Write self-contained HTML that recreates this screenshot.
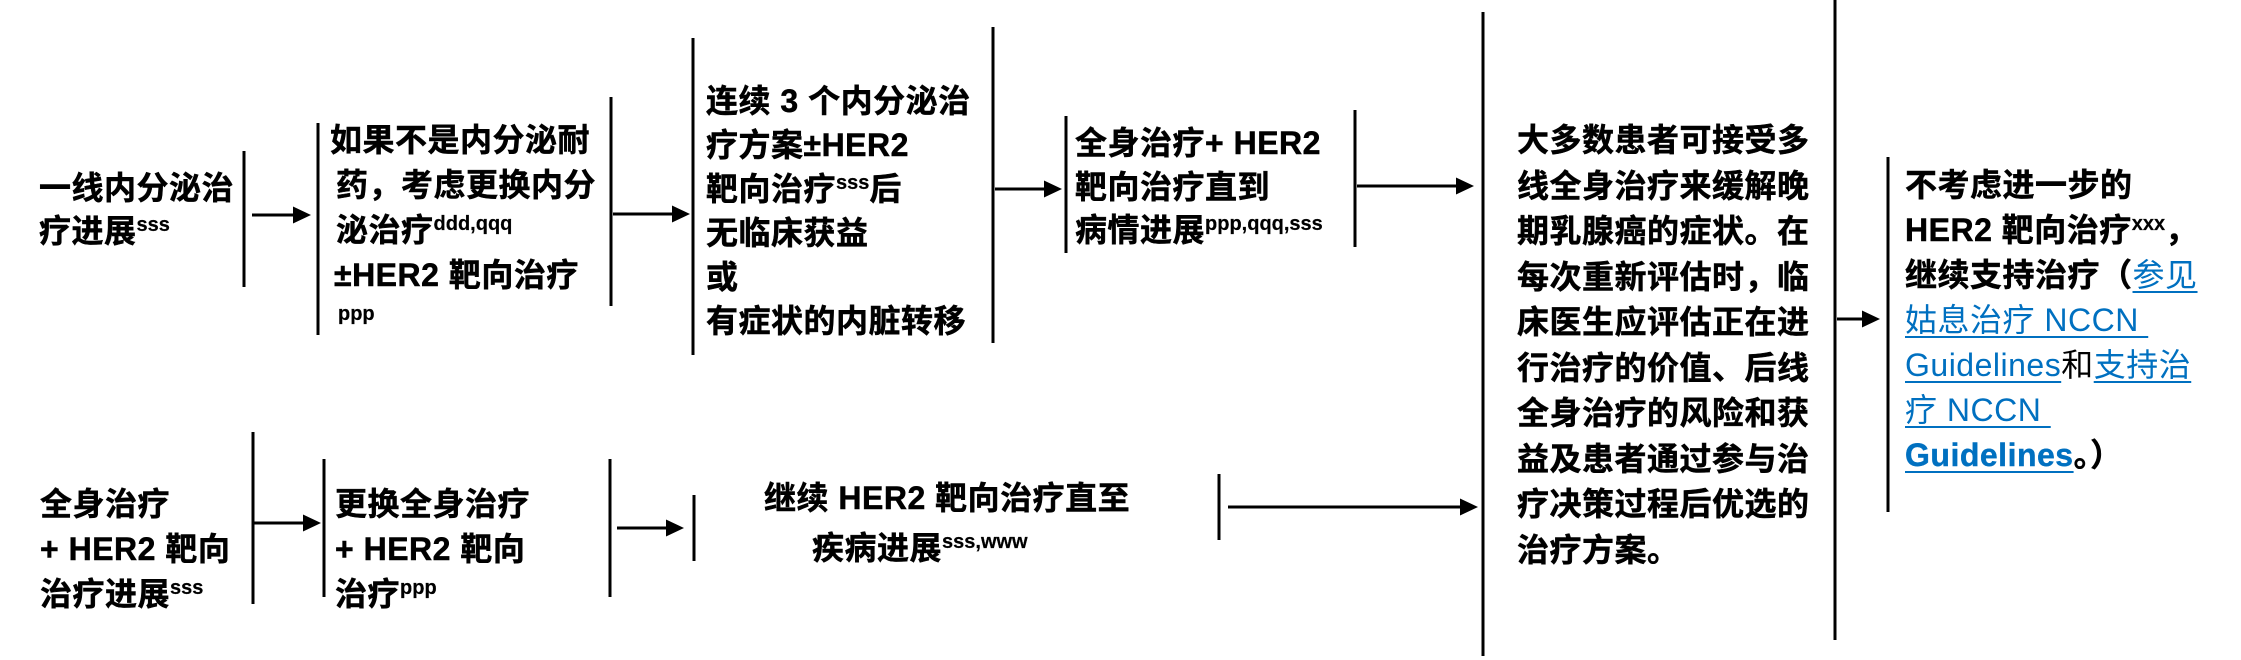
<!DOCTYPE html>
<html>
<head>
<meta charset="utf-8">
<style>
  html, body { margin:0; padding:0; }
  body { width:2241px; height:660px; overflow:hidden; background:#fff; position:relative; }
  .t { position:absolute; font-family:"Liberation Sans","Noto Sans CJK SC",sans-serif; font-weight:bold; font-size:32px; white-space:nowrap; letter-spacing:0.5px; color:#000; -webkit-text-stroke:0.5px #000; }
  sup { font-size:20px; vertical-align:11px; line-height:0; letter-spacing:0; font-weight:bold; -webkit-text-stroke:0.2px #000; }
  a { color:#0070C0; font-weight:normal; text-decoration:underline; text-decoration-thickness:2px; text-underline-offset:5px; -webkit-text-stroke:0; }
  a.b { font-weight:bold; -webkit-text-stroke:0.4px #0070C0; }
  .n { font-weight:normal; -webkit-text-stroke:0; }
  svg { position:absolute; left:0; top:0; }
</style>
</head>
<body>
<svg width="2241" height="660" viewBox="0 0 2241 660">
  <g stroke="#000" stroke-width="3" fill="none">
    <!-- top row vertical bars -->
    <line x1="244" y1="151" x2="244" y2="287"/>
    <line x1="318" y1="123" x2="318" y2="335"/>
    <line x1="611" y1="97" x2="611" y2="306"/>
    <line x1="693" y1="38" x2="693" y2="355"/>
    <line x1="993" y1="27" x2="993" y2="343"/>
    <line x1="1066" y1="116" x2="1066" y2="253"/>
    <line x1="1355" y1="110" x2="1355" y2="247"/>
    <line x1="1483" y1="12" x2="1483" y2="656"/>
    <line x1="1835" y1="0" x2="1835" y2="640"/>
    <line x1="1888" y1="157" x2="1888" y2="512"/>
    <!-- bottom row vertical bars -->
    <line x1="253" y1="432" x2="253" y2="604"/>
    <line x1="324" y1="459" x2="324" y2="597"/>
    <line x1="610" y1="459" x2="610" y2="597"/>
    <line x1="694" y1="495" x2="694" y2="561"/>
    <line x1="1219" y1="474" x2="1219" y2="540"/>
    <!-- arrow shafts -->
    <line x1="252" y1="215" x2="296" y2="215"/>
    <line x1="613" y1="214" x2="675" y2="214"/>
    <line x1="995" y1="189" x2="1047" y2="189"/>
    <line x1="1357" y1="186" x2="1459" y2="186"/>
    <line x1="1837" y1="319" x2="1865" y2="319"/>
    <line x1="254" y1="523" x2="306" y2="523"/>
    <line x1="617" y1="528" x2="669" y2="528"/>
    <line x1="1228" y1="507" x2="1463" y2="507"/>
  </g>
  <g fill="#000">
    <polygon points="293,206.5 311,215 293,223.5"/>
    <polygon points="672,205.5 690,214 672,222.5"/>
    <polygon points="1044,180.5 1062,189 1044,197.5"/>
    <polygon points="1456,177.5 1474,186 1456,194.5"/>
    <polygon points="1862,310.5 1880,319 1862,327.5"/>
    <polygon points="303,514.5 321,523 303,531.5"/>
    <polygon points="666,519.5 684,528 666,536.5"/>
    <polygon points="1460,498.5 1478,507 1460,515.5"/>
  </g>
</svg>

<!-- Block A -->
<div class="t" style="left:39px;top:167px;line-height:43px;">
  <div>一线内分泌治</div>
  <div>疗进展<sup>sss</sup></div>
</div>

<!-- Block B -->
<div class="t" style="left:330px;top:118px;line-height:45px;">
  <div>如果不是内分泌耐</div>
  <div style="padding-left:6px">药，考虑更换内分</div>
  <div style="padding-left:6px">泌治疗<sup>ddd,qqq</sup></div>
  <div style="padding-left:4px">±HER2 靶向治疗</div>
  <div style="padding-left:8px"><sup>ppp</sup></div>
</div>

<!-- Block C -->
<div class="t" style="left:706px;top:79px;line-height:44px;">
  <div>连续 3 个内分泌治</div>
  <div>疗方案±HER2</div>
  <div>靶向治疗<sup>sss</sup>后</div>
  <div>无临床获益</div>
  <div>或</div>
  <div>有症状的内脏转移</div>
</div>

<!-- Block D -->
<div class="t" style="left:1075px;top:122px;line-height:43.5px;">
  <div>全身治疗+ HER2</div>
  <div>靶向治疗直到</div>
  <div>病情进展<sup>ppp,qqq,sss</sup></div>
</div>

<!-- Block E -->
<div class="t" style="left:1517px;top:118px;line-height:45.5px;">
  <div>大多数患者可接受多</div>
  <div>线全身治疗来缓解晚</div>
  <div>期乳腺癌的症状。在</div>
  <div>每次重新评估时，临</div>
  <div>床医生应评估正在进</div>
  <div>行治疗的价值、后线</div>
  <div>全身治疗的风险和获</div>
  <div>益及患者通过参与治</div>
  <div>疗决策过程后优选的</div>
  <div>治疗方案。</div>
</div>

<!-- Block F -->
<div class="t" style="left:1905px;top:163px;line-height:45px;">
  <div>不考虑进一步的</div>
  <div>HER2 靶向治疗<sup>xxx</sup>，</div>
  <div>继续支持治疗（<a>参见</a></div>
  <div><a>姑息治疗 NCCN&nbsp;</a></div>
  <div><a>Guidelines</a><span class="n">和</span><a>支持治</a></div>
  <div><a>疗 NCCN&nbsp;</a></div>
  <div><a class="b">Guidelines</a>。）</div>
</div>

<!-- Block G -->
<div class="t" style="left:40px;top:482px;line-height:45px;">
  <div>全身治疗</div>
  <div>+ HER2 靶向</div>
  <div>治疗进展<sup>sss</sup></div>
</div>

<!-- Block H -->
<div class="t" style="left:335px;top:482px;line-height:45px;">
  <div>更换全身治疗</div>
  <div>+ HER2 靶向</div>
  <div>治疗<sup>ppp</sup></div>
</div>

<!-- Block I -->
<div class="t" style="left:764px;top:476px;line-height:44px;">
  <div>继续 HER2 靶向治疗直至</div>
</div>
<div class="t" style="left:812px;top:526px;line-height:44px;">
  <div>疾病进展<sup>sss,www</sup></div>
</div>
</body>
</html>
